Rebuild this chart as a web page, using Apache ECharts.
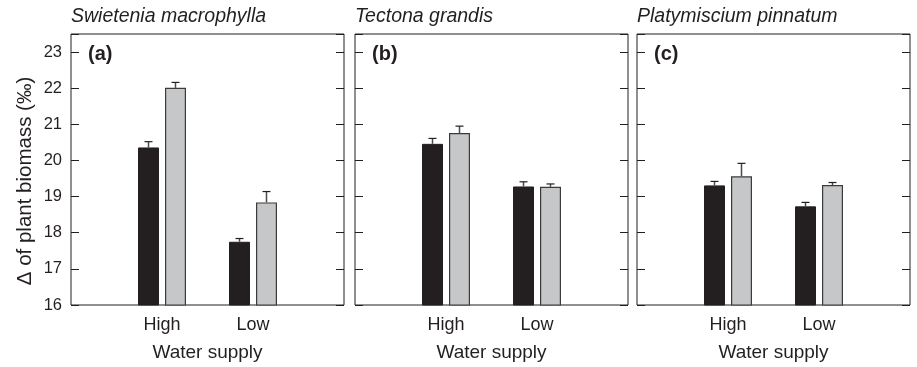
<!DOCTYPE html>
<html>
<head>
<meta charset="utf-8">
<script src="https://cdn.jsdelivr.net/npm/echarts@6/dist/echarts.min.js"></script>
<style>
  html, body { margin: 0; padding: 0; background: #ffffff; }
  #chart { width: 917px; height: 367px; }
</style>
</head>
<body>
<div id="chart"></div>
<script>
// Water supply treatments (outer blanks pad the axis so bars sit at 1/3 and 2/3)
const categories = ['High', 'Low'];
const species = ['Swietenia macrophylla', 'Tectona grandis', 'Platymiscium pinnatum'];
const panelLetters = ['(a)', '(b)', '(c)'];
const yTicks = [16, 17, 18, 19, 20, 21, 22, 23];

// Δ of plant biomass (‰), dark series then light series, per species
const darkMeans  = [[20.36, 17.75], [20.46, 19.28], [19.31, 18.73]];
const darkErrors = [[0.16, 0.09],   [0.15, 0.13],   [0.11, 0.11]];
const lightMeans  = [[22.01, 18.84], [20.76, 19.27], [19.56, 19.32]];
const lightErrors = [[0.15, 0.30],   [0.19, 0.08],   [0.36, 0.07]];

const FONT = '"Liberation Sans", Arial, Helvetica, sans-serif';
const INK = '#231f20';
const DARK = '#231f20';
const LIGHT = '#c6c7c9';
const BAR_W = 21;
const BAR_GAP = 6;

const gridLefts = [71, 355, 637];
const gridWidth = 273;
const gridTop = 34;
const gridHeight = 272;

const axisCats = [''].concat(categories, ['']);
const padSeries = (vals) => [null].concat(vals, [null]);

const grids = [], xAxes = [], yAxes = [], series = [], titles = [], graphics = [];

function errorRenderer(offset) {
  return function (params, api) {
    const x = api.value(0);
    const mean = api.value(1);
    const err = api.value(2);
    const base = api.coord([x, mean]);
    const top = api.coord([x, mean + err]);
    const cx = base[0] + offset;
    return {
      type: 'group',
      children: [
        { type: 'line', shape: { x1: cx, y1: base[1], x2: cx, y2: top[1] },
          style: { stroke: '#4a4a4a', lineWidth: 1.5 } },
        { type: 'line', shape: { x1: cx - 4, y1: top[1], x2: cx + 4, y2: top[1] },
          style: { stroke: INK, lineWidth: 1.2 } }
      ]
    };
  };
}

species.forEach((name, i) => {
  grids.push({
    left: gridLefts[i], top: gridTop, width: gridWidth, height: gridHeight,
    show: true, borderColor: INK, borderWidth: 1, backgroundColor: 'transparent'
  });
  xAxes.push({
    gridIndex: i, type: 'category', data: axisCats, boundaryGap: false,
    axisLine: { show: false }, axisTick: { show: false },
    axisLabel: { color: INK, fontFamily: FONT, fontSize: 18, margin: 11, interval: 0 },
    name: 'Water supply', nameLocation: 'middle', nameGap: 38,
    nameTextStyle: { color: INK, fontFamily: FONT, fontSize: 19 }
  });
  const yBase = {
    gridIndex: i, type: 'value', min: yTicks[0], max: 23.5, interval: 1,
    splitLine: { show: false },
    axisLine: { show: false },
    axisTick: { show: true, inside: true, length: 8, lineStyle: { color: INK, width: 1 } }
  };
  yAxes.push(Object.assign({}, yBase, {
    position: 'left',
    axisLabel: {
      show: i === 0, color: INK, fontFamily: FONT, fontSize: 16.5, margin: 9,
      formatter: (v) => (yTicks.indexOf(v) >= 0 ? String(v) : '')
    }
  }));
  yAxes.push(Object.assign({}, yBase, {
    position: 'right', axisLabel: { show: false }
  }));

  const yIdx = i * 2;
  series.push({
    type: 'bar', xAxisIndex: i, yAxisIndex: yIdx,
    data: padSeries(darkMeans[i]), barWidth: BAR_W, barGap: (BAR_GAP / BAR_W * 100) + '%',
    itemStyle: { color: DARK, borderColor: INK, borderWidth: 1 },
    silent: true, animation: false
  });
  series.push({
    type: 'bar', xAxisIndex: i, yAxisIndex: yIdx,
    data: padSeries(lightMeans[i]), barWidth: BAR_W,
    itemStyle: { color: LIGHT, borderColor: '#3b3b3b', borderWidth: 1.2 },
    silent: true, animation: false
  });
  const half = (BAR_W + BAR_GAP) / 2;
  series.push({
    type: 'custom', xAxisIndex: i, yAxisIndex: yIdx,
    renderItem: errorRenderer(-half),
    data: categories.map((c, k) => [k + 1, darkMeans[i][k], darkErrors[i][k]]),
    encode: { x: 0, y: 1 }, silent: true, animation: false, z: 3
  });
  series.push({
    type: 'custom', xAxisIndex: i, yAxisIndex: yIdx,
    renderItem: errorRenderer(half),
    data: categories.map((c, k) => [k + 1, lightMeans[i][k], lightErrors[i][k]]),
    encode: { x: 0, y: 1 }, silent: true, animation: false, z: 3
  });

  titles.push({
    text: name, left: gridLefts[i], top: 7, padding: 0,
    textStyle: { color: INK, fontFamily: FONT, fontSize: 19.5, fontStyle: 'italic', fontWeight: 'normal' }
  });
  graphics.push({
    type: 'text', left: gridLefts[i] + 17, top: 44,
    style: { text: panelLetters[i], fill: INK, font: 'bold 20px ' + FONT }
  });
});

graphics.push({
  type: 'text', x: 25, y: 181, rotation: Math.PI / 2,
  style: {
    text: 'Δ of plant biomass (‰)', fill: INK, font: '20.5px ' + FONT,
    textAlign: 'center', textVerticalAlign: 'middle'
  }
});

const chart = echarts.init(document.getElementById('chart'), null, { renderer: 'canvas' });
chart.setOption({
  backgroundColor: '#ffffff',
  animation: false,
  title: titles,
  grid: grids,
  xAxis: xAxes,
  yAxis: yAxes,
  series: series,
  graphic: graphics
});
</script>
</body>
</html>
